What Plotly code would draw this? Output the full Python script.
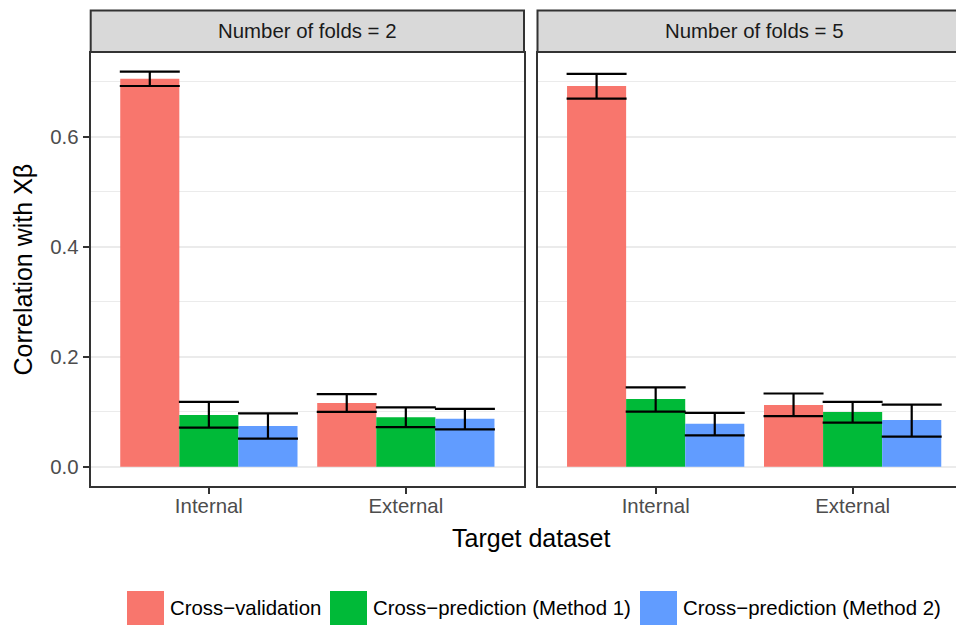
import plotly.graph_objects as go

# ---------------- data ----------------
categories = ["Internal", "External"]
series_names = ["Cross\u2212validation", "Cross\u2212prediction (Method 1)", "Cross\u2212prediction (Method 2)"]
series_colors = ["#F8766D", "#00BA38", "#619CFF"]
facet_titles = ["Number of folds = 2", "Number of folds = 5"]

# folds = 2
f2_cv = [0.705, 0.116]
f2_cp1 = [0.094, 0.090]
f2_cp2 = [0.074, 0.087]
f2_cv_hi = [0.718, 0.132]
f2_cv_lo = [0.692, 0.0995]
f2_cp1_hi = [0.118, 0.108]
f2_cp1_lo = [0.071, 0.072]
f2_cp2_hi = [0.097, 0.105]
f2_cp2_lo = [0.051, 0.068]

# folds = 5
f5_cv = [0.692, 0.112]
f5_cp1 = [0.123, 0.0995]
f5_cp2 = [0.078, 0.085]
f5_cv_hi = [0.714, 0.133]
f5_cv_lo = [0.669, 0.092]
f5_cp1_hi = [0.144, 0.118]
f5_cp1_lo = [0.100, 0.080]
f5_cp2_hi = [0.098, 0.113]
f5_cp2_lo = [0.057, 0.0545]

y_tickvals = [0.0, 0.2, 0.4, 0.6]
y_ticktext = ["0.0", "0.2", "0.4", "0.6"]
y_minorvals = [0.1, 0.3, 0.5, 0.7]

# ---------------- layout helpers ----------------
OFF = 8                      # page body margin
W, H = 964 - OFF, 625 - OFF  # figure size so that it fills the window
def px(x):
    return (x - OFF) / W
def py(y):
    return 1 - (y - OFF) / H

FONT = "Liberation Sans, Arial, sans-serif"
LINE = "#333333"
FS = 20.4

panel_top, panel_bot = 53, 486
left_x0, left_x1 = 90.7, 524.0
right_x0 = 537.5
unit = (left_x1 - left_x0) / 2.2
right_range_end = -0.6 + (964 - right_x0) / unit

fig = go.Figure()

facets = [
    ([f2_cv, f2_cp1, f2_cp2], [f2_cv_hi, f2_cp1_hi, f2_cp2_hi], [f2_cv_lo, f2_cp1_lo, f2_cp2_lo], "x", "y"),
    ([f5_cv, f5_cp1, f5_cp2], [f5_cv_hi, f5_cp1_hi, f5_cp2_hi], [f5_cv_lo, f5_cp1_lo, f5_cp2_lo], "x2", "y2"),
]

for vals, his, los, xa, ya in facets:
    for name, color, v, hi, lo in zip(series_names, series_colors, vals, his, los):
        fig.add_trace(go.Bar(
            x=categories, y=v, name=name,
            marker=dict(color=color, line=dict(width=0)),
            error_y=dict(type="data", symmetric=False,
                         array=[h - a for h, a in zip(hi, v)],
                         arrayminus=[a - l for a, l in zip(v, lo)],
                         color="black", thickness=2.2, width=30),
            xaxis=xa, yaxis=ya, showlegend=False,
        ))

common_x = dict(type="category", showgrid=False, showline=True, mirror=True,
                linecolor=LINE, linewidth=2, ticks="outside", ticklen=6,
                tickcolor=LINE, tickwidth=2, ticklabelstandoff=-5,
                tickfont=dict(family=FONT, size=FS, color="#4D4D4D"),
                zeroline=False, automargin=False, fixedrange=True)
common_y = dict(range=[-0.0351, 0.752], domain=[py(panel_bot), py(panel_top)],
                tickmode="array", tickvals=y_tickvals, ticktext=y_ticktext,
                showgrid=True, gridcolor="#EBEBEB", gridwidth=2,
                minor=dict(tickvals=y_minorvals, showgrid=True, gridcolor="#EBEBEB",
                           gridwidth=1, ticks=""),
                zeroline=False, showline=True, linecolor=LINE, linewidth=2,
                automargin=False, fixedrange=True)

fig.update_layout(
    width=W, height=H,
    margin=dict(l=0, r=0, t=0, b=0),
    paper_bgcolor="white", plot_bgcolor="white",
    barmode="group", bargap=0.1, bargroupgap=0,
    xaxis=dict(common_x, domain=[px(left_x0), px(left_x1)], range=[-0.6, 1.6], anchor="y"),
    xaxis2=dict(common_x, domain=[px(right_x0), 1.0], range=[-0.6, right_range_end], anchor="y2"),
    yaxis=dict(common_y, anchor="x", mirror=True, ticks="outside", ticklen=6,
               tickcolor=LINE, tickwidth=2,
               tickfont=dict(family=FONT, size=FS, color="#4D4D4D")),
    yaxis2=dict(common_y, anchor="x2", mirror=False, showticklabels=False, ticks=""),
    showlegend=False,
)

shapes = []
annotations = []
# strips
strip_top, strip_bot = 10.5, 52
for (x0, x1), title in zip([(left_x0, left_x1), (right_x0, right_x0 + 2.2 * unit)], facet_titles):
    shapes.append(dict(type="rect", xref="paper", yref="paper",
                       x0=px(x0), x1=px(x1), y0=py(strip_bot), y1=py(strip_top),
                       fillcolor="#D9D9D9", line=dict(color=LINE, width=2), layer="above"))
    annotations.append(dict(x=px((x0 + x1) / 2), y=py((strip_top + strip_bot) / 2),
                            xref="paper", yref="paper", text=title, showarrow=False,
                            xanchor="center", yanchor="middle",
                            font=dict(family=FONT, size=FS, color="#1A1A1A")))

# axis titles
annotations.append(dict(x=px((left_x0 + right_x0 + 2.2 * unit) / 2), y=py(538), xref="paper", yref="paper",
                        text="Target dataset", showarrow=False, xanchor="center", yanchor="middle",
                        font=dict(family=FONT, size=25, color="black")))
annotations.append(dict(x=px(22), y=py((panel_top + panel_bot) / 2), xref="paper", yref="paper",
                        text="Correlation with X\u03b2", showarrow=False, textangle=-90,
                        xanchor="center", yanchor="middle",
                        font=dict(family=FONT, size=25, color="black")))

# legend (manual, bottom)
key_x = [127, 330, 640]
key_w = 37
for kx, name, color in zip(key_x, series_names, series_colors):
    shapes.append(dict(type="rect", xref="paper", yref="paper",
                       x0=px(kx), x1=px(kx + key_w), y0=py(632), y1=py(591),
                       fillcolor=color, line=dict(width=0)))
    annotations.append(dict(x=px(kx + key_w + 3.5), y=py(608), xref="paper", yref="paper",
                            text=name, showarrow=False, xanchor="left", yanchor="middle",
                            font=dict(family=FONT, size=FS, color="black")))

fig.update_layout(shapes=shapes, annotations=annotations)

fig.write_html("out.html")
